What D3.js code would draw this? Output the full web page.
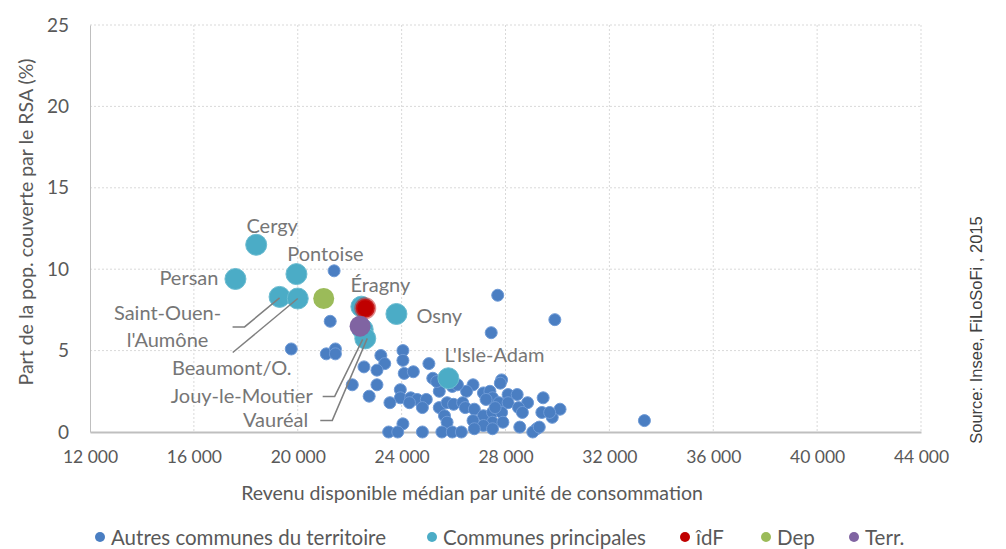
<!DOCTYPE html>
<html>
<head>
<meta charset="utf-8">
<script src="https://cdn.jsdelivr.net/npm/d3@7"></script>
<style>
  body { margin: 0; background: #fff; }
  text { font-family: Lato, "Open Sans", sans-serif; }
</style>
</head>
<body>
<div id="chart"></div>
<script>
// ---- data ----
var xTicks = [12000, 16000, 20000, 24000, 28000, 32000, 36000, 40000, 44000];
var yTicks = [0, 5, 10, 15, 20, 25];

// other communes of the territory
var autresX = [21400, 21250, 19750, 21100, 21450, 21450, 22550, 23200, 23350, 23050,
  24050, 24050, 24100, 24450, 25050, 22100, 23050, 22750, 23950, 23950,
  24350, 24600, 24950, 23550, 24300, 24800, 25200, 25450, 25450, 25750,
  25650, 25750, 24050, 23500, 23850, 24800, 25550, 25950, 26000, 25350,
  27450, 27700, 29900, 33350, 27850, 27800, 26750, 26500, 27150, 27400,
  27500, 26350, 27750, 28100, 28450, 28100, 28850, 28500, 28650, 29450,
  29400, 29800, 30100, 29700, 26450, 26800, 27150, 27500, 27850, 26750,
  27500, 27900, 27150, 26800, 27500, 28550, 29200, 29050, 26300, 29300,
  25950, 26150, 27250, 27600];
var autresY = [9.9, 6.8, 5.1, 4.8, 5.1, 4.8, 4.0, 4.7, 4.2, 3.8,
  5.0, 4.4, 3.6, 3.7, 4.2, 2.9, 2.9, 2.2, 2.6, 2.1,
  2.1, 2.0, 2.0, 1.8, 1.8, 1.5, 3.3, 2.5, 1.5, 1.8,
  1.0, 0.6, 0.5, 0, 0, 0, 0, 0, 1.7, 3.1,
  6.1, 8.4, 6.9, 0.7, 3.2, 3.0, 2.9, 2.5, 2.4, 2.5,
  2.1, 1.8, 1.8, 2.3, 2.3, 1.8, 1.8, 1.5, 1.2, 2.1,
  1.2, 0.9, 1.4, 1.2, 1.5, 1.4, 1.0, 1.2, 1.2, 0.7,
  0.6, 0.6, 0.4, 0.2, 0.2, 0.3, 0.2, 0, 0, 0.3,
  2.8, 2.9, 2.0, 1.5];

// main communes
var principalNames = ["Cergy", "Persan", "Pontoise", "Saint-Ouen-l'Aumône", "Beaumont/O.",
  "Éragny", "Osny", "Jouy-le-Moutier", "Vauréal", "L'Isle-Adam"];
var principalX = [18400, 17600, 19950, 19300, 20000, 22450, 23800, 22500, 22600, 25800];
var principalY = [11.5, 9.4, 9.7, 8.3, 8.2, 7.7, 7.25, 6.3, 5.75, 3.3];

// reference averages
var refNames = ["îdF", "Dep", "Terr."];
var refX = [22600, 21000, 22400];
var refY = [7.6, 8.2, 6.5];

var legendLabels = ["Autres communes du territoire", "Communes principales", "îdF", "Dep", "Terr."];

// ---- layout / style ----
var colors = {autres: "#4a7ec2", principal: "#4bacc6", "îdF": "#c00000", "Dep": "#9bbb59", "Terr.": "#8064a2"};

// label placement relative to the point (pixels)
var labelPlacement = {
  "Cergy": {dx: 16, dy: -12, anchor: "middle"},
  "Persan": {dx: -17, dy: 6, anchor: "end"},
  "Pontoise": {dx: 29, dy: -13, anchor: "middle"},
  "Saint-Ouen-l'Aumône": {dx: -112, dy: 23, anchor: "middle", lines: ["Saint-Ouen-", "l'Aumône"],
    leader: [[-47, 30], [-35, 30], [0, 1]]},
  "Beaumont/O.": {dx: -66, dy: 76, anchor: "middle", leader: [[-65, 54], [0, 0]]},
  "Éragny": {dx: 19, dy: -15, anchor: "middle"},
  "Osny": {dx: 20, dy: 9, anchor: "start"},
  "Jouy-le-Moutier": {dx: -50, dy: 74, anchor: "end", leader: [[-40, 67], [-28, 67], [0, 10]]},
  "Vauréal": {dx: -57, dy: 89, anchor: "end", leader: [[-45, 82], [-33, 82], [2, 0]]},
  "L'Isle-Adam": {dx: 46, dy: -16, anchor: "middle"}
};

var W = 1006, H = 549;
var margin = {top: 25, right: 85, bottom: 117, left: 90},
    width = W - margin.left - margin.right,
    height = H - margin.top - margin.bottom;

var svgRoot = d3.select("#chart").append("svg")
    .attr("width", W)
    .attr("height", H);

var svg = svgRoot.append("g")
    .attr("transform", "translate(" + margin.left + "," + margin.top + ")");

var x = d3.scaleLinear().domain([12000, 44000]).range([0, width]);
var y = d3.scaleLinear().domain([0, 25]).range([height, 0]);

// gridlines
svg.append("g")
  .selectAll("line")
  .data(yTicks.filter(function(d) { return d > 0; }))
  .enter().append("line")
    .attr("x1", 0).attr("x2", width)
    .attr("y1", function(d) { return y(d); })
    .attr("y2", function(d) { return y(d); })
    .attr("stroke", "#d9d9d9")
    .attr("stroke-dasharray", "2,2");

svg.append("g")
  .selectAll("line")
  .data(xTicks.filter(function(d) { return d > 12000; }))
  .enter().append("line")
    .attr("x1", function(d) { return x(d); })
    .attr("x2", function(d) { return x(d); })
    .attr("y1", 0).attr("y2", height)
    .attr("stroke", "#d9d9d9")
    .attr("stroke-dasharray", "2,2");

// axes
var fmt = function(d) { return d3.format(",")(d).replace(",", " "); };

var xAxis = svg.append("g")
    .attr("transform", "translate(0," + height + ")")
    .call(d3.axisBottom(x).tickValues(xTicks).tickFormat(fmt).tickSize(0).tickPadding(19));
xAxis.select(".domain").attr("stroke", "#bfbfbf").attr("stroke-width", 2);
xAxis.selectAll("text").attr("fill", "#595959").style("font-size", "17.5px")
    .style("font-family", "Lato, sans-serif");

var yAxis = svg.append("g")
    .call(d3.axisLeft(y).tickValues(yTicks).tickSize(0).tickPadding(21));
yAxis.select(".domain").attr("stroke", "#bfbfbf").attr("stroke-width", 1);
yAxis.selectAll("text").attr("fill", "#595959").style("font-size", "19px")
    .style("font-family", "Lato, sans-serif");

// axis titles
svg.append("text")
    .attr("x", 472 - margin.left)
    .attr("y", height + 68)
    .attr("text-anchor", "middle")
    .attr("fill", "#595959")
    .style("font-size", "19.5px")
    .text("Revenu disponible médian par unité de consommation");

svg.append("text")
    .attr("transform", "translate(" + (-57) + "," + (222 - margin.top) + ") rotate(-90)")
    .attr("text-anchor", "middle")
    .attr("fill", "#595959")
    .style("font-size", "19.5px")
    .text("Part de la pop. couverte par le RSA (%)");

svgRoot.append("text")
    .attr("transform", "translate(982," + 330 + ") rotate(-90)")
    .attr("text-anchor", "middle")
    .attr("fill", "#404040")
    .style("font-family", "'Liberation Sans', Arial, sans-serif")
    .style("font-size", "16.5px")
    .text("Source: Insee, FiLoSoFi , 2015");

// points: other communes
svg.append("g")
  .selectAll("circle")
  .data(d3.range(autresX.length))
  .enter().append("circle")
    .attr("cx", function(i) { return x(autresX[i]); })
    .attr("cy", function(i) { return y(autresY[i]); })
    .attr("r", 6)
    .attr("fill", colors.autres)
    .attr("stroke", "#6e9ad6")
    .attr("stroke-width", 1);

// points: main communes
svg.append("g")
  .selectAll("circle")
  .data(d3.range(principalX.length))
  .enter().append("circle")
    .attr("cx", function(i) { return x(principalX[i]); })
    .attr("cy", function(i) { return y(principalY[i]); })
    .attr("r", 10.5)
    .attr("fill", colors.principal)
    .attr("stroke", "#6cbcd1")
    .attr("stroke-width", 1);

// reference points
svg.append("g")
  .selectAll("circle")
  .data(d3.range(refX.length))
  .enter().append("circle")
    .attr("cx", function(i) { return x(refX[i]); })
    .attr("cy", function(i) { return y(refY[i]); })
    .attr("r", function(i) { return refNames[i] == "îdF" ? 9.5 : 10.5; })
    .attr("fill", function(i) { return colors[refNames[i]]; })
    .attr("stroke", function(i) { return refNames[i] == "îdF" ? "rgba(200,40,40,0.55)" : "none"; })
    .attr("stroke-width", function(i) { return refNames[i] == "îdF" ? 3 : 0; });

// labels + leader lines
var labels = svg.append("g");
principalNames.forEach(function(name, i) {
  var p = labelPlacement[name];
  var px = x(principalX[i]), py = y(principalY[i]);
  if (p.leader) {
    labels.append("path")
      .attr("d", d3.line()(p.leader.map(function(o) { return [px + o[0], py + o[1]]; })))
      .attr("fill", "none")
      .attr("stroke", "#7f7f7f")
      .attr("stroke-width", 1.5);
  }
  var t = labels.append("text")
    .attr("x", px + p.dx)
    .attr("y", py + p.dy)
    .attr("text-anchor", p.anchor)
    .attr("fill", "#767676")
    .style("font-size", "20px");
  if (p.lines) {
    p.lines.forEach(function(l, k) {
      t.append("tspan").attr("x", px + p.dx).attr("dy", k == 0 ? 0 : 27).text(l);
    });
  } else {
    t.text(name);
  }
});

// legend
var legendX = [100, 432, 685, 766, 854];
var legend = svgRoot.append("g").attr("transform", "translate(0,538)");
legendLabels.forEach(function(l, i) {
  var c = i == 0 ? colors.autres : i == 1 ? colors.principal : colors[refNames[i - 2]];
  legend.append("circle")
    .attr("cx", legendX[i]).attr("cy", -1).attr("r", 5)
    .attr("fill", c);
  legend.append("text")
    .attr("x", legendX[i] + 11).attr("y", 6.5)
    .attr("fill", "#595959")
    .style("font-size", "20.5px")
    .text(l);
});
</script>
</body>
</html>
